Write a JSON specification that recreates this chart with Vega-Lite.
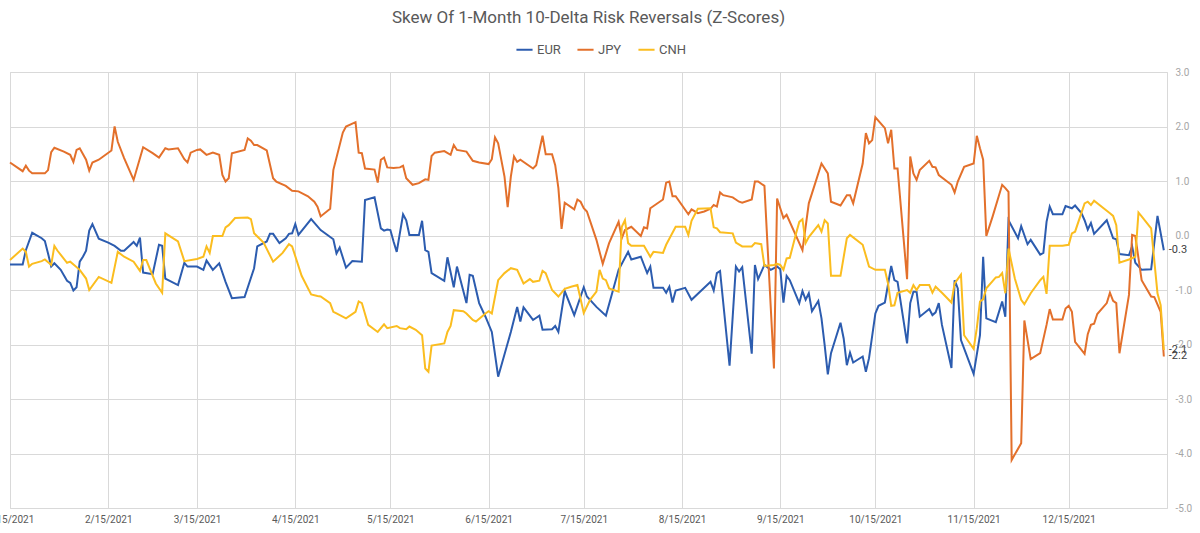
{
"$schema": "https://vega.github.io/schema/vega-lite/v6.json",
"width": 1157, "height": 436,
"autosize": {"type": "none"},
"padding": {"left": 10, "top": 72, "right": 33, "bottom": 25},
"background": "white",
"title": {"text": "Skew Of 1-Month 10-Delta Risk Reversals (Z-Scores)", "anchor": "middle", "offset": 13, "fontSize": 17, "font": "Roboto", "fontWeight": "normal", "color": "#595959"},
"config": {"view": {"stroke": "#d9d9d9"}, "font": "Roboto"},
"datasets": {
"s": [
{"d":"2021-01-15","k":"EUR","v":-0.53},{"d":"2021-01-19","k":"EUR","v":-0.53},{"d":"2021-01-20","k":"EUR","v":-0.27},{"d":"2021-01-22","k":"EUR","v":0.05},{"d":"2021-01-25","k":"EUR","v":-0.05},{"d":"2021-01-26","k":"EUR","v":-0.1},{"d":"2021-01-27","k":"EUR","v":-0.33},{"d":"2021-01-28","k":"EUR","v":-0.57},{"d":"2021-01-29","k":"EUR","v":-0.51},{"d":"2021-01-31","k":"EUR","v":-0.63},
{"d":"2021-02-02","k":"EUR","v":-0.83},{"d":"2021-02-03","k":"EUR","v":-0.87},{"d":"2021-02-04","k":"EUR","v":-1.01},{"d":"2021-02-05","k":"EUR","v":-0.95},{"d":"2021-02-06","k":"EUR","v":-0.48},{"d":"2021-02-07","k":"EUR","v":-0.39},{"d":"2021-02-08","k":"EUR","v":-0.28},{"d":"2021-02-09","k":"EUR","v":0.09},{"d":"2021-02-10","k":"EUR","v":0.21},{"d":"2021-02-12","k":"EUR","v":-0.06},{"d":"2021-02-15","k":"EUR","v":-0.13},{"d":"2021-02-17","k":"EUR","v":-0.19},{"d":"2021-02-19","k":"EUR","v":-0.28},{"d":"2021-02-20","k":"EUR","v":-0.28},{"d":"2021-02-23","k":"EUR","v":-0.12},{"d":"2021-02-24","k":"EUR","v":-0.19},{"d":"2021-02-25","k":"EUR","v":-0.04},{"d":"2021-02-26","k":"EUR","v":-0.68},
{"d":"2021-03-01","k":"EUR","v":-0.71},{"d":"2021-03-03","k":"EUR","v":-0.17},{"d":"2021-03-04","k":"EUR","v":-0.19},{"d":"2021-03-05","k":"EUR","v":-0.79},{"d":"2021-03-09","k":"EUR","v":-0.91},{"d":"2021-03-11","k":"EUR","v":-0.5},{"d":"2021-03-12","k":"EUR","v":-0.57},{"d":"2021-03-15","k":"EUR","v":-0.57},{"d":"2021-03-17","k":"EUR","v":-0.63},{"d":"2021-03-18","k":"EUR","v":-0.46},{"d":"2021-03-20","k":"EUR","v":-0.63},{"d":"2021-03-22","k":"EUR","v":-0.51},{"d":"2021-03-24","k":"EUR","v":-0.85},{"d":"2021-03-26","k":"EUR","v":-1.15},{"d":"2021-03-30","k":"EUR","v":-1.13},
{"d":"2021-04-02","k":"EUR","v":-0.6},{"d":"2021-04-03","k":"EUR","v":-0.2},{"d":"2021-04-06","k":"EUR","v":-0.11},{"d":"2021-04-07","k":"EUR","v":0.03},{"d":"2021-04-08","k":"EUR","v":0.03},{"d":"2021-04-10","k":"EUR","v":-0.14},{"d":"2021-04-12","k":"EUR","v":-0.05},{"d":"2021-04-13","k":"EUR","v":0.03},{"d":"2021-04-14","k":"EUR","v":0.04},{"d":"2021-04-15","k":"EUR","v":0.21},{"d":"2021-04-16","k":"EUR","v":0.01},{"d":"2021-04-20","k":"EUR","v":0.3},{"d":"2021-04-23","k":"EUR","v":0.1},{"d":"2021-04-27","k":"EUR","v":-0.07},{"d":"2021-04-28","k":"EUR","v":-0.33},{"d":"2021-04-29","k":"EUR","v":-0.22},
{"d":"2021-05-01","k":"EUR","v":-0.59},{"d":"2021-05-03","k":"EUR","v":-0.47},{"d":"2021-05-06","k":"EUR","v":-0.48},{"d":"2021-05-07","k":"EUR","v":0.65},{"d":"2021-05-10","k":"EUR","v":0.7},{"d":"2021-05-12","k":"EUR","v":0.13},{"d":"2021-05-13","k":"EUR","v":0.09},{"d":"2021-05-14","k":"EUR","v":0.11},{"d":"2021-05-15","k":"EUR","v":0.1},{"d":"2021-05-16","k":"EUR","v":-0.11},{"d":"2021-05-17","k":"EUR","v":-0.3},{"d":"2021-05-19","k":"EUR","v":0.39},{"d":"2021-05-20","k":"EUR","v":0.28},{"d":"2021-05-21","k":"EUR","v":0.01},{"d":"2021-05-24","k":"EUR","v":0.01},{"d":"2021-05-25","k":"EUR","v":0.27},{"d":"2021-05-26","k":"EUR","v":-0.27},{"d":"2021-05-27","k":"EUR","v":-0.3},{"d":"2021-05-28","k":"EUR","v":-0.69},
{"d":"2021-06-01","k":"EUR","v":-0.83},{"d":"2021-06-02","k":"EUR","v":-0.4},{"d":"2021-06-04","k":"EUR","v":-0.95},{"d":"2021-06-05","k":"EUR","v":-0.57},{"d":"2021-06-08","k":"EUR","v":-1.24},{"d":"2021-06-09","k":"EUR","v":-0.72},{"d":"2021-06-10","k":"EUR","v":-0.74},{"d":"2021-06-12","k":"EUR","v":-1.24},{"d":"2021-06-14","k":"EUR","v":-1.49},{"d":"2021-06-16","k":"EUR","v":-1.77},{"d":"2021-06-18","k":"EUR","v":-2.59},{"d":"2021-06-22","k":"EUR","v":-1.77},{"d":"2021-06-24","k":"EUR","v":-1.31},{"d":"2021-06-25","k":"EUR","v":-1.58},{"d":"2021-06-26","k":"EUR","v":-1.32},{"d":"2021-06-29","k":"EUR","v":-1.55},
{"d":"2021-07-01","k":"EUR","v":-1.47},{"d":"2021-07-02","k":"EUR","v":-1.73},{"d":"2021-07-05","k":"EUR","v":-1.72},{"d":"2021-07-06","k":"EUR","v":-1.66},{"d":"2021-07-07","k":"EUR","v":-1.77},{"d":"2021-07-09","k":"EUR","v":-1.02},{"d":"2021-07-12","k":"EUR","v":-1.46},{"d":"2021-07-15","k":"EUR","v":-0.95},{"d":"2021-07-16","k":"EUR","v":-1.12},{"d":"2021-07-19","k":"EUR","v":-1.31},{"d":"2021-07-22","k":"EUR","v":-1.47},{"d":"2021-07-24","k":"EUR","v":-1.05},{"d":"2021-07-26","k":"EUR","v":-0.63},{"d":"2021-07-29","k":"EUR","v":-0.3},{"d":"2021-07-30","k":"EUR","v":-0.44},
{"d":"2021-08-02","k":"EUR","v":-0.39},{"d":"2021-08-04","k":"EUR","v":-0.69},{"d":"2021-08-05","k":"EUR","v":-0.57},{"d":"2021-08-06","k":"EUR","v":-0.96},{"d":"2021-08-09","k":"EUR","v":-0.96},{"d":"2021-08-10","k":"EUR","v":-1.05},{"d":"2021-08-11","k":"EUR","v":-0.94},{"d":"2021-08-12","k":"EUR","v":-1.23},{"d":"2021-08-13","k":"EUR","v":-1.01},{"d":"2021-08-16","k":"EUR","v":-0.96},{"d":"2021-08-18","k":"EUR","v":-1.18},{"d":"2021-08-24","k":"EUR","v":-0.85},{"d":"2021-08-25","k":"EUR","v":-1.01},{"d":"2021-08-26","k":"EUR","v":-0.69},{"d":"2021-08-27","k":"EUR","v":-0.65},{"d":"2021-08-30","k":"EUR","v":-2.39},
{"d":"2021-09-01","k":"EUR","v":-0.57},{"d":"2021-09-02","k":"EUR","v":-0.66},{"d":"2021-09-03","k":"EUR","v":-0.58},{"d":"2021-09-06","k":"EUR","v":-2.17},{"d":"2021-09-07","k":"EUR","v":-0.54},{"d":"2021-09-08","k":"EUR","v":-0.8},{"d":"2021-09-10","k":"EUR","v":-0.54},{"d":"2021-09-12","k":"EUR","v":-0.63},{"d":"2021-09-14","k":"EUR","v":-0.57},{"d":"2021-09-15","k":"EUR","v":-0.62},{"d":"2021-09-16","k":"EUR","v":-1.23},{"d":"2021-09-17","k":"EUR","v":-0.74},{"d":"2021-09-18","k":"EUR","v":-0.82},{"d":"2021-09-21","k":"EUR","v":-1.24},{"d":"2021-09-22","k":"EUR","v":-1.02},{"d":"2021-09-23","k":"EUR","v":-1.18},{"d":"2021-09-24","k":"EUR","v":-1.06},{"d":"2021-09-25","k":"EUR","v":-1.39},{"d":"2021-09-27","k":"EUR","v":-1.2},{"d":"2021-09-28","k":"EUR","v":-1.52},{"d":"2021-09-29","k":"EUR","v":-2.01},{"d":"2021-09-30","k":"EUR","v":-2.55},
{"d":"2021-10-01","k":"EUR","v":-2.16},{"d":"2021-10-04","k":"EUR","v":-1.6},{"d":"2021-10-05","k":"EUR","v":-1.89},{"d":"2021-10-06","k":"EUR","v":-2.38},{"d":"2021-10-07","k":"EUR","v":-2.15},{"d":"2021-10-08","k":"EUR","v":-2.33},{"d":"2021-10-11","k":"EUR","v":-2.22},{"d":"2021-10-12","k":"EUR","v":-2.5},{"d":"2021-10-13","k":"EUR","v":-2.25},{"d":"2021-10-15","k":"EUR","v":-1.43},{"d":"2021-10-16","k":"EUR","v":-1.29},{"d":"2021-10-18","k":"EUR","v":-1.23},{"d":"2021-10-20","k":"EUR","v":-0.56},{"d":"2021-10-21","k":"EUR","v":-0.82},{"d":"2021-10-22","k":"EUR","v":-0.85},{"d":"2021-10-25","k":"EUR","v":-1.98},{"d":"2021-10-26","k":"EUR","v":-1.24},{"d":"2021-10-27","k":"EUR","v":-1.03},{"d":"2021-10-28","k":"EUR","v":-1.03},{"d":"2021-10-29","k":"EUR","v":-1.49},
{"d":"2021-11-01","k":"EUR","v":-1.35},{"d":"2021-11-02","k":"EUR","v":-1.46},{"d":"2021-11-03","k":"EUR","v":-1.41},{"d":"2021-11-04","k":"EUR","v":-1.24},{"d":"2021-11-05","k":"EUR","v":-1.64},{"d":"2021-11-08","k":"EUR","v":-2.43},{"d":"2021-11-09","k":"EUR","v":-0.82},{"d":"2021-11-10","k":"EUR","v":-0.97},{"d":"2021-11-11","k":"EUR","v":-1.92},{"d":"2021-11-15","k":"EUR","v":-2.54},{"d":"2021-11-17","k":"EUR","v":-1.83},{"d":"2021-11-18","k":"EUR","v":-0.39},{"d":"2021-11-19","k":"EUR","v":-1.52},{"d":"2021-11-22","k":"EUR","v":-1.59},{"d":"2021-11-24","k":"EUR","v":-1.21},{"d":"2021-11-25","k":"EUR","v":-1.49},{"d":"2021-11-26","k":"EUR","v":0.28},{"d":"2021-11-29","k":"EUR","v":-0.05},{"d":"2021-11-30","k":"EUR","v":0.17},
{"d":"2021-12-02","k":"EUR","v":-0.16},{"d":"2021-12-03","k":"EUR","v":-0.08},{"d":"2021-12-06","k":"EUR","v":-0.35},{"d":"2021-12-07","k":"EUR","v":-0.32},{"d":"2021-12-08","k":"EUR","v":0.25},{"d":"2021-12-09","k":"EUR","v":0.53},{"d":"2021-12-10","k":"EUR","v":0.39},{"d":"2021-12-13","k":"EUR","v":0.39},{"d":"2021-12-14","k":"EUR","v":0.54},{"d":"2021-12-16","k":"EUR","v":0.5},{"d":"2021-12-17","k":"EUR","v":0.55},{"d":"2021-12-19","k":"EUR","v":0.41},{"d":"2021-12-20","k":"EUR","v":0.28},{"d":"2021-12-21","k":"EUR","v":0.11},{"d":"2021-12-22","k":"EUR","v":0.23},{"d":"2021-12-23","k":"EUR","v":0.03},{"d":"2021-12-27","k":"EUR","v":0.28},{"d":"2021-12-29","k":"EUR","v":-0.05},{"d":"2021-12-30","k":"EUR","v":-0.07},{"d":"2021-12-31","k":"EUR","v":-0.34},
{"d":"2022-01-03","k":"EUR","v":-0.36},{"d":"2022-01-04","k":"EUR","v":-0.2},{"d":"2022-01-05","k":"EUR","v":-0.5},{"d":"2022-01-07","k":"EUR","v":-0.63},{"d":"2022-01-10","k":"EUR","v":-0.62},{"d":"2022-01-12","k":"EUR","v":0.36},{"d":"2022-01-14","k":"EUR","v":-0.27},

{"d":"2021-01-15","k":"JPY","v":1.34},{"d":"2021-01-19","k":"JPY","v":1.18},{"d":"2021-01-20","k":"JPY","v":1.28},{"d":"2021-01-21","k":"JPY","v":1.19},{"d":"2021-01-22","k":"JPY","v":1.14},{"d":"2021-01-26","k":"JPY","v":1.14},{"d":"2021-01-27","k":"JPY","v":1.2},{"d":"2021-01-28","k":"JPY","v":1.53},{"d":"2021-01-29","k":"JPY","v":1.61},
{"d":"2021-02-01","k":"JPY","v":1.54},{"d":"2021-02-03","k":"JPY","v":1.48},{"d":"2021-02-04","k":"JPY","v":1.35},{"d":"2021-02-05","k":"JPY","v":1.57},{"d":"2021-02-06","k":"JPY","v":1.6},{"d":"2021-02-08","k":"JPY","v":1.39},{"d":"2021-02-09","k":"JPY","v":1.19},{"d":"2021-02-10","k":"JPY","v":1.34},{"d":"2021-02-12","k":"JPY","v":1.39},{"d":"2021-02-16","k":"JPY","v":1.56},{"d":"2021-02-17","k":"JPY","v":2.0},{"d":"2021-02-18","k":"JPY","v":1.72},{"d":"2021-02-20","k":"JPY","v":1.42},{"d":"2021-02-23","k":"JPY","v":1.02},{"d":"2021-02-26","k":"JPY","v":1.62},
{"d":"2021-03-01","k":"JPY","v":1.51},{"d":"2021-03-03","k":"JPY","v":1.43},{"d":"2021-03-05","k":"JPY","v":1.6},{"d":"2021-03-06","k":"JPY","v":1.58},{"d":"2021-03-09","k":"JPY","v":1.6},{"d":"2021-03-11","k":"JPY","v":1.4},{"d":"2021-03-12","k":"JPY","v":1.34},{"d":"2021-03-13","k":"JPY","v":1.52},{"d":"2021-03-15","k":"JPY","v":1.57},{"d":"2021-03-16","k":"JPY","v":1.58},{"d":"2021-03-18","k":"JPY","v":1.48},{"d":"2021-03-20","k":"JPY","v":1.52},{"d":"2021-03-22","k":"JPY","v":1.48},{"d":"2021-03-23","k":"JPY","v":1.11},{"d":"2021-03-24","k":"JPY","v":0.99},{"d":"2021-03-25","k":"JPY","v":1.05},{"d":"2021-03-26","k":"JPY","v":1.51},{"d":"2021-03-30","k":"JPY","v":1.57},{"d":"2021-03-31","k":"JPY","v":1.78},
{"d":"2021-04-01","k":"JPY","v":1.74},{"d":"2021-04-02","k":"JPY","v":1.66},{"d":"2021-04-03","k":"JPY","v":1.66},{"d":"2021-04-06","k":"JPY","v":1.56},{"d":"2021-04-08","k":"JPY","v":1.05},{"d":"2021-04-09","k":"JPY","v":0.99},{"d":"2021-04-12","k":"JPY","v":0.91},{"d":"2021-04-14","k":"JPY","v":0.82},{"d":"2021-04-16","k":"JPY","v":0.81},{"d":"2021-04-19","k":"JPY","v":0.72},{"d":"2021-04-21","k":"JPY","v":0.62},{"d":"2021-04-22","k":"JPY","v":0.53},{"d":"2021-04-23","k":"JPY","v":0.35},{"d":"2021-04-26","k":"JPY","v":0.49},{"d":"2021-04-27","k":"JPY","v":1.2},{"d":"2021-04-30","k":"JPY","v":1.89},
{"d":"2021-05-01","k":"JPY","v":2.0},{"d":"2021-05-04","k":"JPY","v":2.08},{"d":"2021-05-05","k":"JPY","v":1.52},{"d":"2021-05-06","k":"JPY","v":1.51},{"d":"2021-05-07","k":"JPY","v":1.23},{"d":"2021-05-10","k":"JPY","v":1.21},{"d":"2021-05-11","k":"JPY","v":0.97},{"d":"2021-05-12","k":"JPY","v":1.39},{"d":"2021-05-13","k":"JPY","v":1.43},{"d":"2021-05-14","k":"JPY","v":1.25},{"d":"2021-05-16","k":"JPY","v":1.24},{"d":"2021-05-18","k":"JPY","v":1.25},{"d":"2021-05-19","k":"JPY","v":1.28},{"d":"2021-05-20","k":"JPY","v":1.05},{"d":"2021-05-22","k":"JPY","v":0.93},{"d":"2021-05-24","k":"JPY","v":0.96},{"d":"2021-05-26","k":"JPY","v":1.03},{"d":"2021-05-27","k":"JPY","v":1.02},{"d":"2021-05-28","k":"JPY","v":1.46},{"d":"2021-05-29","k":"JPY","v":1.52},
{"d":"2021-06-01","k":"JPY","v":1.55},{"d":"2021-06-03","k":"JPY","v":1.48},{"d":"2021-06-04","k":"JPY","v":1.66},{"d":"2021-06-05","k":"JPY","v":1.57},{"d":"2021-06-08","k":"JPY","v":1.54},{"d":"2021-06-10","k":"JPY","v":1.37},{"d":"2021-06-12","k":"JPY","v":1.34},{"d":"2021-06-15","k":"JPY","v":1.31},{"d":"2021-06-16","k":"JPY","v":1.4},{"d":"2021-06-17","k":"JPY","v":1.8},{"d":"2021-06-18","k":"JPY","v":1.69},{"d":"2021-06-20","k":"JPY","v":1.08},{"d":"2021-06-21","k":"JPY","v":0.52},{"d":"2021-06-22","k":"JPY","v":1.08},{"d":"2021-06-23","k":"JPY","v":1.45},{"d":"2021-06-24","k":"JPY","v":1.35},{"d":"2021-06-25","k":"JPY","v":1.39},{"d":"2021-06-29","k":"JPY","v":1.23},{"d":"2021-06-30","k":"JPY","v":1.29},
{"d":"2021-07-02","k":"JPY","v":1.83},{"d":"2021-07-03","k":"JPY","v":1.49},{"d":"2021-07-05","k":"JPY","v":1.49},{"d":"2021-07-06","k":"JPY","v":1.29},{"d":"2021-07-07","k":"JPY","v":0.87},{"d":"2021-07-08","k":"JPY","v":0.12},{"d":"2021-07-09","k":"JPY","v":0.6},{"d":"2021-07-12","k":"JPY","v":0.48},{"d":"2021-07-13","k":"JPY","v":0.66},{"d":"2021-07-14","k":"JPY","v":0.62},{"d":"2021-07-15","k":"JPY","v":0.5},{"d":"2021-07-16","k":"JPY","v":0.44},{"d":"2021-07-19","k":"JPY","v":-0.08},{"d":"2021-07-21","k":"JPY","v":-0.52},{"d":"2021-07-23","k":"JPY","v":-0.14},{"d":"2021-07-26","k":"JPY","v":0.25},{"d":"2021-07-27","k":"JPY","v":-0.05},{"d":"2021-07-28","k":"JPY","v":0.1},{"d":"2021-07-30","k":"JPY","v":0.16},
{"d":"2021-08-02","k":"JPY","v":-0.01},{"d":"2021-08-03","k":"JPY","v":0.15},{"d":"2021-08-04","k":"JPY","v":0.13},{"d":"2021-08-05","k":"JPY","v":0.5},{"d":"2021-08-09","k":"JPY","v":0.66},{"d":"2021-08-10","k":"JPY","v":0.97},{"d":"2021-08-11","k":"JPY","v":0.99},{"d":"2021-08-12","k":"JPY","v":0.72},{"d":"2021-08-13","k":"JPY","v":0.72},{"d":"2021-08-17","k":"JPY","v":0.39},{"d":"2021-08-18","k":"JPY","v":0.48},{"d":"2021-08-20","k":"JPY","v":0.41},{"d":"2021-08-22","k":"JPY","v":0.44},{"d":"2021-08-24","k":"JPY","v":0.49},{"d":"2021-08-25","k":"JPY","v":0.56},{"d":"2021-08-26","k":"JPY","v":0.53},{"d":"2021-08-27","k":"JPY","v":0.79},{"d":"2021-08-28","k":"JPY","v":0.74},{"d":"2021-08-31","k":"JPY","v":0.7},
{"d":"2021-09-02","k":"JPY","v":0.62},{"d":"2021-09-03","k":"JPY","v":0.6},{"d":"2021-09-06","k":"JPY","v":0.66},{"d":"2021-09-07","k":"JPY","v":0.99},{"d":"2021-09-08","k":"JPY","v":0.99},{"d":"2021-09-10","k":"JPY","v":0.91},{"d":"2021-09-13","k":"JPY","v":-2.44},{"d":"2021-09-14","k":"JPY","v":0.68},{"d":"2021-09-16","k":"JPY","v":0.32},{"d":"2021-09-17","k":"JPY","v":0.38},{"d":"2021-09-22","k":"JPY","v":-0.27},{"d":"2021-09-24","k":"JPY","v":0.59},{"d":"2021-09-28","k":"JPY","v":1.32},{"d":"2021-09-30","k":"JPY","v":1.14},
{"d":"2021-10-01","k":"JPY","v":0.62},{"d":"2021-10-04","k":"JPY","v":0.55},{"d":"2021-10-06","k":"JPY","v":0.74},{"d":"2021-10-07","k":"JPY","v":0.74},{"d":"2021-10-08","k":"JPY","v":0.59},{"d":"2021-10-11","k":"JPY","v":1.32},{"d":"2021-10-12","k":"JPY","v":1.88},{"d":"2021-10-13","k":"JPY","v":1.69},{"d":"2021-10-14","k":"JPY","v":1.75},{"d":"2021-10-15","k":"JPY","v":2.17},{"d":"2021-10-18","k":"JPY","v":1.97},{"d":"2021-10-19","k":"JPY","v":1.69},{"d":"2021-10-20","k":"JPY","v":1.94},{"d":"2021-10-21","k":"JPY","v":1.23},{"d":"2021-10-22","k":"JPY","v":1.23},{"d":"2021-10-25","k":"JPY","v":-0.8},{"d":"2021-10-26","k":"JPY","v":1.45},{"d":"2021-10-27","k":"JPY","v":1.14},{"d":"2021-10-28","k":"JPY","v":1.02},{"d":"2021-10-29","k":"JPY","v":1.2},
{"d":"2021-11-01","k":"JPY","v":1.37},{"d":"2021-11-02","k":"JPY","v":1.26},{"d":"2021-11-03","k":"JPY","v":1.25},{"d":"2021-11-04","k":"JPY","v":1.11},{"d":"2021-11-08","k":"JPY","v":0.93},{"d":"2021-11-09","k":"JPY","v":0.79},{"d":"2021-11-10","k":"JPY","v":0.99},{"d":"2021-11-12","k":"JPY","v":1.26},{"d":"2021-11-15","k":"JPY","v":1.32},{"d":"2021-11-16","k":"JPY","v":1.83},{"d":"2021-11-17","k":"JPY","v":1.6},{"d":"2021-11-18","k":"JPY","v":1.39},{"d":"2021-11-19","k":"JPY","v":-0.01},{"d":"2021-11-21","k":"JPY","v":0.35},{"d":"2021-11-24","k":"JPY","v":0.93},{"d":"2021-11-25","k":"JPY","v":0.87},{"d":"2021-11-26","k":"JPY","v":0.8},{"d":"2021-11-27","k":"JPY","v":-4.12},{"d":"2021-11-30","k":"JPY","v":-3.81},
{"d":"2021-12-01","k":"JPY","v":-1.56},{"d":"2021-12-03","k":"JPY","v":-2.27},{"d":"2021-12-06","k":"JPY","v":-2.16},{"d":"2021-12-08","k":"JPY","v":-1.64},{"d":"2021-12-09","k":"JPY","v":-1.35},{"d":"2021-12-10","k":"JPY","v":-1.54},{"d":"2021-12-13","k":"JPY","v":-1.54},{"d":"2021-12-14","k":"JPY","v":-1.34},{"d":"2021-12-15","k":"JPY","v":-1.29},{"d":"2021-12-16","k":"JPY","v":-1.4},{"d":"2021-12-17","k":"JPY","v":-1.95},{"d":"2021-12-20","k":"JPY","v":-2.17},{"d":"2021-12-21","k":"JPY","v":-1.81},{"d":"2021-12-22","k":"JPY","v":-1.64},{"d":"2021-12-23","k":"JPY","v":-1.62},{"d":"2021-12-24","k":"JPY","v":-1.44},{"d":"2021-12-27","k":"JPY","v":-1.24},{"d":"2021-12-28","k":"JPY","v":-1.05},{"d":"2021-12-29","k":"JPY","v":-1.2},{"d":"2021-12-30","k":"JPY","v":-1.24},{"d":"2021-12-31","k":"JPY","v":-2.16},
{"d":"2022-01-03","k":"JPY","v":-1.09},{"d":"2022-01-04","k":"JPY","v":0.01},{"d":"2022-01-05","k":"JPY","v":-0.01},{"d":"2022-01-07","k":"JPY","v":-0.82},{"d":"2022-01-10","k":"JPY","v":-1.12},{"d":"2022-01-11","k":"JPY","v":-1.13},{"d":"2022-01-13","k":"JPY","v":-1.4},{"d":"2022-01-14","k":"JPY","v":-2.22},

{"d":"2021-01-15","k":"CNH","v":-0.45},{"d":"2021-01-19","k":"CNH","v":-0.24},{"d":"2021-01-20","k":"CNH","v":-0.3},{"d":"2021-01-21","k":"CNH","v":-0.57},{"d":"2021-01-22","k":"CNH","v":-0.52},{"d":"2021-01-25","k":"CNH","v":-0.47},{"d":"2021-01-26","k":"CNH","v":-0.44},{"d":"2021-01-28","k":"CNH","v":-0.54},{"d":"2021-01-29","k":"CNH","v":-0.19},{"d":"2021-01-30","k":"CNH","v":-0.28},
{"d":"2021-02-02","k":"CNH","v":-0.5},{"d":"2021-02-03","k":"CNH","v":-0.48},{"d":"2021-02-06","k":"CNH","v":-0.63},{"d":"2021-02-08","k":"CNH","v":-0.79},{"d":"2021-02-09","k":"CNH","v":-1.0},{"d":"2021-02-12","k":"CNH","v":-0.76},{"d":"2021-02-16","k":"CNH","v":-0.87},{"d":"2021-02-18","k":"CNH","v":-0.3},{"d":"2021-02-20","k":"CNH","v":-0.39},{"d":"2021-02-23","k":"CNH","v":-0.48},{"d":"2021-02-25","k":"CNH","v":-0.65},{"d":"2021-02-26","k":"CNH","v":-0.45},{"d":"2021-02-27","k":"CNH","v":-0.45},
{"d":"2021-03-02","k":"CNH","v":-0.88},{"d":"2021-03-04","k":"CNH","v":-1.05},{"d":"2021-03-05","k":"CNH","v":0.04},{"d":"2021-03-09","k":"CNH","v":-0.11},{"d":"2021-03-11","k":"CNH","v":-0.47},{"d":"2021-03-15","k":"CNH","v":-0.43},{"d":"2021-03-17","k":"CNH","v":-0.39},{"d":"2021-03-18","k":"CNH","v":-0.2},{"d":"2021-03-19","k":"CNH","v":-0.32},{"d":"2021-03-20","k":"CNH","v":-0.01},{"d":"2021-03-23","k":"CNH","v":-0.01},{"d":"2021-03-24","k":"CNH","v":0.15},{"d":"2021-03-25","k":"CNH","v":0.19},{"d":"2021-03-27","k":"CNH","v":0.32},{"d":"2021-03-31","k":"CNH","v":0.33},
{"d":"2021-04-01","k":"CNH","v":0.3},{"d":"2021-04-02","k":"CNH","v":0.04},{"d":"2021-04-05","k":"CNH","v":-0.13},{"d":"2021-04-08","k":"CNH","v":-0.48},{"d":"2021-04-11","k":"CNH","v":-0.32},{"d":"2021-04-13","k":"CNH","v":-0.16},{"d":"2021-04-14","k":"CNH","v":-0.2},{"d":"2021-04-17","k":"CNH","v":-0.74},{"d":"2021-04-20","k":"CNH","v":-1.08},{"d":"2021-04-22","k":"CNH","v":-1.11},{"d":"2021-04-23","k":"CNH","v":-1.12},{"d":"2021-04-26","k":"CNH","v":-1.24},{"d":"2021-04-27","k":"CNH","v":-1.4},{"d":"2021-04-28","k":"CNH","v":-1.43},
{"d":"2021-05-01","k":"CNH","v":-1.52},{"d":"2021-05-04","k":"CNH","v":-1.4},{"d":"2021-05-05","k":"CNH","v":-1.21},{"d":"2021-05-06","k":"CNH","v":-1.24},{"d":"2021-05-08","k":"CNH","v":-1.64},{"d":"2021-05-11","k":"CNH","v":-1.77},{"d":"2021-05-13","k":"CNH","v":-1.63},{"d":"2021-05-14","k":"CNH","v":-1.7},{"d":"2021-05-17","k":"CNH","v":-1.66},{"d":"2021-05-18","k":"CNH","v":-1.7},{"d":"2021-05-20","k":"CNH","v":-1.72},{"d":"2021-05-21","k":"CNH","v":-1.67},{"d":"2021-05-23","k":"CNH","v":-1.73},{"d":"2021-05-25","k":"CNH","v":-1.83},{"d":"2021-05-26","k":"CNH","v":-2.44},{"d":"2021-05-27","k":"CNH","v":-2.5},{"d":"2021-05-28","k":"CNH","v":-2.02},
{"d":"2021-06-01","k":"CNH","v":-1.98},{"d":"2021-06-02","k":"CNH","v":-1.77},{"d":"2021-06-03","k":"CNH","v":-1.66},{"d":"2021-06-04","k":"CNH","v":-1.37},{"d":"2021-06-07","k":"CNH","v":-1.39},{"d":"2021-06-08","k":"CNH","v":-1.43},{"d":"2021-06-10","k":"CNH","v":-1.55},{"d":"2021-06-11","k":"CNH","v":-1.58},{"d":"2021-06-14","k":"CNH","v":-1.43},{"d":"2021-06-15","k":"CNH","v":-1.39},{"d":"2021-06-16","k":"CNH","v":-1.43},{"d":"2021-06-18","k":"CNH","v":-0.82},{"d":"2021-06-20","k":"CNH","v":-0.69},{"d":"2021-06-22","k":"CNH","v":-0.6},{"d":"2021-06-24","k":"CNH","v":-0.63},{"d":"2021-06-26","k":"CNH","v":-0.88},{"d":"2021-06-28","k":"CNH","v":-0.8},{"d":"2021-06-29","k":"CNH","v":-0.85},
{"d":"2021-07-01","k":"CNH","v":-0.83},{"d":"2021-07-02","k":"CNH","v":-0.65},{"d":"2021-07-03","k":"CNH","v":-0.69},{"d":"2021-07-05","k":"CNH","v":-1.0},{"d":"2021-07-07","k":"CNH","v":-1.12},{"d":"2021-07-09","k":"CNH","v":-0.98},{"d":"2021-07-11","k":"CNH","v":-0.94},{"d":"2021-07-13","k":"CNH","v":-0.91},{"d":"2021-07-15","k":"CNH","v":-1.42},{"d":"2021-07-17","k":"CNH","v":-1.18},{"d":"2021-07-19","k":"CNH","v":-1.03},{"d":"2021-07-20","k":"CNH","v":-0.63},{"d":"2021-07-21","k":"CNH","v":-0.79},{"d":"2021-07-22","k":"CNH","v":-0.82},{"d":"2021-07-23","k":"CNH","v":-0.97},{"d":"2021-07-26","k":"CNH","v":-1.03},{"d":"2021-07-27","k":"CNH","v":0.16},{"d":"2021-07-28","k":"CNH","v":0.28},{"d":"2021-07-29","k":"CNH","v":-0.14},{"d":"2021-07-30","k":"CNH","v":-0.19},
{"d":"2021-08-03","k":"CNH","v":-0.19},{"d":"2021-08-05","k":"CNH","v":-0.39},{"d":"2021-08-06","k":"CNH","v":-0.3},{"d":"2021-08-09","k":"CNH","v":-0.32},{"d":"2021-08-10","k":"CNH","v":-0.17},{"d":"2021-08-13","k":"CNH","v":0.16},{"d":"2021-08-16","k":"CNH","v":0.16},{"d":"2021-08-17","k":"CNH","v":0.01},{"d":"2021-08-18","k":"CNH","v":0.27},{"d":"2021-08-20","k":"CNH","v":0.49},{"d":"2021-08-24","k":"CNH","v":0.5},{"d":"2021-08-25","k":"CNH","v":0.15},{"d":"2021-08-26","k":"CNH","v":0.13},{"d":"2021-08-27","k":"CNH","v":0.06},{"d":"2021-08-31","k":"CNH","v":0.04},
{"d":"2021-09-01","k":"CNH","v":-0.13},{"d":"2021-09-03","k":"CNH","v":-0.2},{"d":"2021-09-06","k":"CNH","v":-0.2},{"d":"2021-09-07","k":"CNH","v":-0.14},{"d":"2021-09-09","k":"CNH","v":-0.16},{"d":"2021-09-10","k":"CNH","v":-0.56},{"d":"2021-09-13","k":"CNH","v":-0.54},{"d":"2021-09-14","k":"CNH","v":-0.52},{"d":"2021-09-15","k":"CNH","v":-0.54},{"d":"2021-09-16","k":"CNH","v":-0.63},{"d":"2021-09-17","k":"CNH","v":-0.42},{"d":"2021-09-18","k":"CNH","v":-0.41},{"d":"2021-09-20","k":"CNH","v":0.04},{"d":"2021-09-21","k":"CNH","v":0.25},{"d":"2021-09-22","k":"CNH","v":0.3},{"d":"2021-09-23","k":"CNH","v":-0.14},{"d":"2021-09-24","k":"CNH","v":-0.03},{"d":"2021-09-27","k":"CNH","v":0.19},{"d":"2021-09-28","k":"CNH","v":0.07},{"d":"2021-09-29","k":"CNH","v":0.28},{"d":"2021-09-30","k":"CNH","v":0.22},
{"d":"2021-10-01","k":"CNH","v":-0.74},{"d":"2021-10-04","k":"CNH","v":-0.74},{"d":"2021-10-06","k":"CNH","v":-0.05},{"d":"2021-10-07","k":"CNH","v":0.01},{"d":"2021-10-11","k":"CNH","v":-0.17},{"d":"2021-10-13","k":"CNH","v":-0.57},{"d":"2021-10-15","k":"CNH","v":-0.63},{"d":"2021-10-18","k":"CNH","v":-0.63},{"d":"2021-10-19","k":"CNH","v":-0.88},{"d":"2021-10-20","k":"CNH","v":-1.29},{"d":"2021-10-21","k":"CNH","v":-1.28},{"d":"2021-10-22","k":"CNH","v":-1.05},{"d":"2021-10-25","k":"CNH","v":-1.0},{"d":"2021-10-26","k":"CNH","v":-1.05},{"d":"2021-10-27","k":"CNH","v":-0.91},{"d":"2021-10-28","k":"CNH","v":-1.0},{"d":"2021-10-29","k":"CNH","v":-0.91},
{"d":"2021-11-01","k":"CNH","v":-0.91},{"d":"2021-11-02","k":"CNH","v":-1.05},{"d":"2021-11-03","k":"CNH","v":-0.94},{"d":"2021-11-05","k":"CNH","v":-1.05},{"d":"2021-11-08","k":"CNH","v":-1.23},{"d":"2021-11-09","k":"CNH","v":-0.88},{"d":"2021-11-11","k":"CNH","v":-0.72},{"d":"2021-11-12","k":"CNH","v":-1.83},{"d":"2021-11-15","k":"CNH","v":-2.08},{"d":"2021-11-16","k":"CNH","v":-1.7},{"d":"2021-11-17","k":"CNH","v":-1.21},{"d":"2021-11-18","k":"CNH","v":-1.17},{"d":"2021-11-19","k":"CNH","v":-0.97},{"d":"2021-11-22","k":"CNH","v":-0.77},{"d":"2021-11-23","k":"CNH","v":-0.76},{"d":"2021-11-24","k":"CNH","v":-0.69},{"d":"2021-11-25","k":"CNH","v":-1.06},{"d":"2021-11-26","k":"CNH","v":-0.24},{"d":"2021-11-28","k":"CNH","v":-0.79},{"d":"2021-11-30","k":"CNH","v":-1.18},
{"d":"2021-12-01","k":"CNH","v":-1.26},{"d":"2021-12-03","k":"CNH","v":-1.06},{"d":"2021-12-06","k":"CNH","v":-0.82},{"d":"2021-12-07","k":"CNH","v":-0.76},{"d":"2021-12-08","k":"CNH","v":-1.07},{"d":"2021-12-09","k":"CNH","v":-0.19},{"d":"2021-12-13","k":"CNH","v":-0.19},{"d":"2021-12-15","k":"CNH","v":-0.17},{"d":"2021-12-16","k":"CNH","v":0.04},{"d":"2021-12-17","k":"CNH","v":0.07},{"d":"2021-12-20","k":"CNH","v":0.59},{"d":"2021-12-21","k":"CNH","v":0.62},{"d":"2021-12-22","k":"CNH","v":0.56},{"d":"2021-12-23","k":"CNH","v":0.64},{"d":"2021-12-26","k":"CNH","v":0.5},{"d":"2021-12-28","k":"CNH","v":0.41},{"d":"2021-12-29","k":"CNH","v":0.36},{"d":"2021-12-30","k":"CNH","v":0.19},{"d":"2021-12-31","k":"CNH","v":-0.5},
{"d":"2022-01-03","k":"CNH","v":-0.44},{"d":"2022-01-05","k":"CNH","v":-0.39},{"d":"2022-01-06","k":"CNH","v":0.42},{"d":"2022-01-07","k":"CNH","v":0.35},{"d":"2022-01-10","k":"CNH","v":0.13},{"d":"2022-01-12","k":"CNH","v":-1.06},{"d":"2022-01-13","k":"CNH","v":-1.28},{"d":"2022-01-14","k":"CNH","v":-2.1}
],
"last": [
{"d":"2022-01-14","k":"EUR","v":-0.27,"t":"-0.3"},
{"d":"2022-01-14","k":"JPY","v":-2.22,"t":"-2.2"},
{"d":"2022-01-14","k":"CNH","v":-2.1,"t":"-2.1"}
]
},
"layer": [
{
"data": {"name": "s"},
"mark": {"type": "line", "strokeWidth": 2},
"encoding": {
"x": {"field": "d", "type": "temporal",
 "scale": {"type": "utc", "domain": [{"year": 2021, "month": 1, "date": 15, "utc": true}, {"year": 2022, "month": 1, "date": 15, "utc": true}]},
 "axis": {"title": null, "values": [
  {"year": 2021, "month": 1, "date": 15, "utc": true}, {"year": 2021, "month": 2, "date": 15, "utc": true}, {"year": 2021, "month": 3, "date": 15, "utc": true}, {"year": 2021, "month": 4, "date": 15, "utc": true}, {"year": 2021, "month": 5, "date": 15, "utc": true}, {"year": 2021, "month": 6, "date": 15, "utc": true}, {"year": 2021, "month": 7, "date": 15, "utc": true}, {"year": 2021, "month": 8, "date": 15, "utc": true}, {"year": 2021, "month": 9, "date": 15, "utc": true}, {"year": 2021, "month": 10, "date": 15, "utc": true}, {"year": 2021, "month": 11, "date": 15, "utc": true}, {"year": 2021, "month": 12, "date": 15, "utc": true}],
  "labelExpr": "utcFormat(datum.value, '%-m/%-d/%Y')", "grid": true, "gridColor": "#d9d9d9", "gridWidth": 1, "domain": false, "ticks": false, "labelPadding": 6, "labelFontSize": 10, "labelFont": "Roboto", "labelColor": "#595959", "labelOverlap": false, "labelFlush": false, "labelBound": false}},
"y": {"field": "v", "type": "quantitative",
 "scale": {"domain": [-5, 3], "nice": false, "zero": false},
 "axis": {"title": null, "orient": "right", "values": [-5, -4, -3, -2, -1, 0, 1, 2, 3], "labelExpr": "replace(format(datum.value, '.1f'), '\u2212', '-')", "grid": true, "gridColor": "#d9d9d9", "domain": false, "ticks": false, "labelPadding": 8, "labelFontSize": 10, "labelFont": "Roboto", "labelColor": "#a6a6a6"}},
"color": {"field": "k", "type": "nominal",
 "scale": {"domain": ["EUR", "JPY", "CNH"], "range": ["#2c5caf", "#e3702b", "#fbbd1f"]},
 "legend": {"title": null, "orient": "none", "legendX": 505, "legendY": -32, "direction": "horizontal", "symbolType": "stroke", "symbolStrokeWidth": 2, "symbolSize": 260, "labelFontSize": 13, "labelFont": "Roboto", "labelColor": "#595959", "columnPadding": 12, "labelOffset": 3}}
}
},
{
"data": {"name": "last"},
"mark": {"type": "text", "align": "left", "baseline": "middle", "dx": 5, "fontSize": 11, "font": "Roboto", "color": "#404040"},
"encoding": {
"x": {"field": "d", "type": "temporal"},
"y": {"field": "v", "type": "quantitative"},
"text": {"field": "t"}
}
}
]
}
